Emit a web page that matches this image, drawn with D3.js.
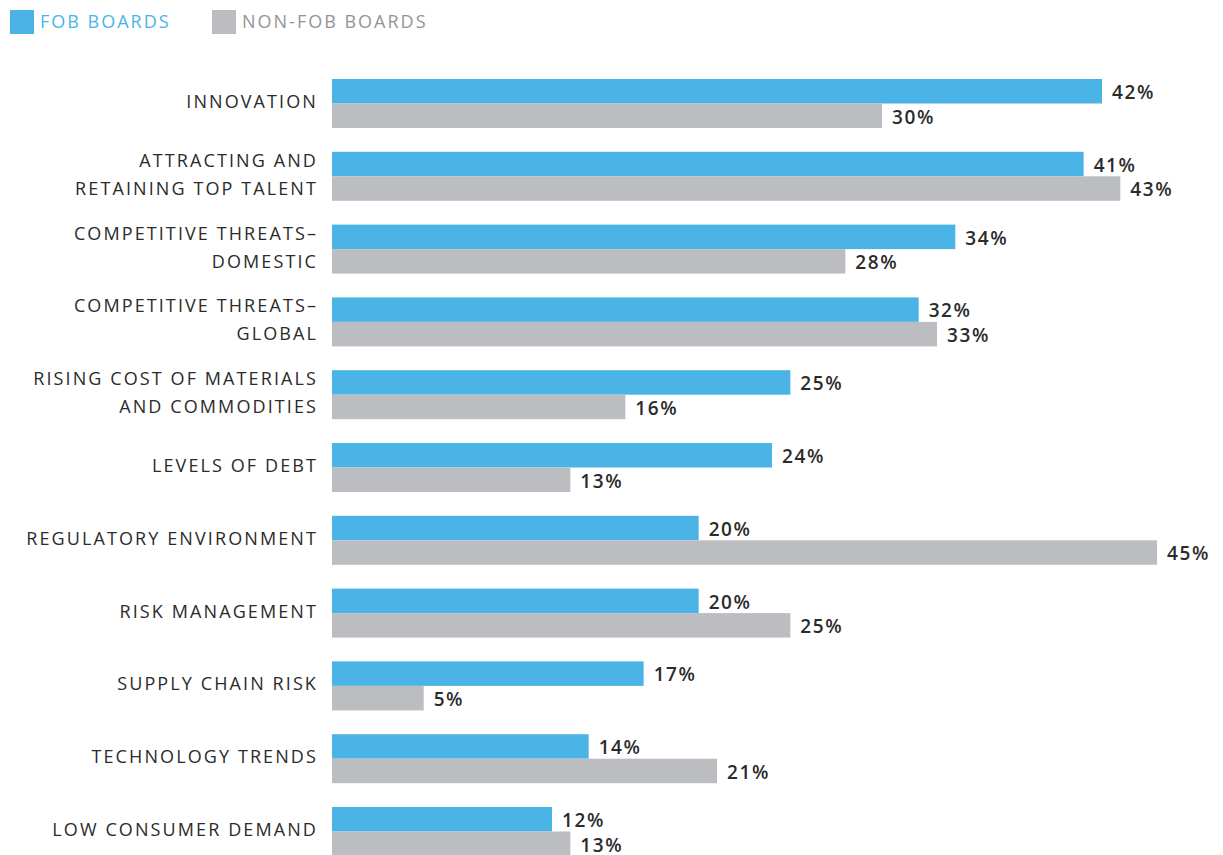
<!DOCTYPE html>
<html>
<head>
<meta charset="utf-8">
<script src="https://cdn.jsdelivr.net/npm/d3@7"></script>
<style>
  body { margin: 0; background: #fff; }
  svg { display: block; }
  text { font-family: "Open Sans", sans-serif; }
</style>
</head>
<body>
<div class="chart"></div>
<script>
// data
var categories = [
  ["INNOVATION"],
  ["ATTRACTING AND", "RETAINING TOP TALENT"],
  ["COMPETITIVE THREATS\u2013", "DOMESTIC"],
  ["COMPETITIVE THREATS\u2013", "GLOBAL"],
  ["RISING COST OF MATERIALS", "AND COMMODITIES"],
  ["LEVELS OF DEBT"],
  ["REGULATORY ENVIRONMENT"],
  ["RISK MANAGEMENT"],
  ["SUPPLY CHAIN RISK"],
  ["TECHNOLOGY TRENDS"],
  ["LOW CONSUMER DEMAND"]
];
var fobValues = [42, 41, 34, 32, 25, 24, 20, 20, 17, 14, 12];
var nonFobValues = [30, 43, 28, 33, 16, 13, 45, 25, 5, 21, 13];
var seriesNames = ["FOB BOARDS", "NON-FOB BOARDS"];
var seriesColors = ["#4bb4e6", "#bcbdc0"];
var legendTextColors = ["#4bb4e6", "#939497"];

var svgWidth = 1223;
var svgHeight = 855;

var svg = d3.select(".chart")
  .append("svg")
  .attr("width", svgWidth)
  .attr("height", svgHeight);

// scales
var x = d3.scaleLinear()
  .domain([0, 45])
  .range([332, 1157]);

// step ~72.8px, each pair of bars 49px tall
var y = d3.scaleBand()
  .domain(d3.range(categories.length))
  .range([79, 79 + 72.8 * (categories.length - 1) + 49])
  .paddingInner(1 - 49 / 72.8)
  .paddingOuter(0);

var sub = d3.scaleBand()
  .domain([0, 1])
  .range([0, y.bandwidth()]);

var rows = categories.map(function(c, i) {
  return { label: c, vals: [fobValues[i], nonFobValues[i]] };
});

var groups = svg.selectAll("g.row")
  .data(rows)
  .enter()
  .append("g")
  .attr("class", "row")
  .attr("transform", (d, i) => `translate(0, ${y(i)})`);

groups.selectAll("rect")
  .data(d => d.vals)
  .enter()
  .append("rect")
  .attr("x", x(0))
  .attr("y", (d, j) => sub(j))
  .attr("width", d => x(d) - x(0))
  .attr("height", sub.bandwidth())
  .attr("fill", (d, j) => seriesColors[j]);

groups.selectAll("text.val")
  .data(d => d.vals)
  .enter()
  .append("text")
  .attr("class", "val")
  .attr("x", d => x(d) + 10)
  .attr("y", (d, j) => sub(j) + sub.bandwidth() / 2 + 1)
  .attr("dy", "0.36em")
  .attr("font-size", 19)
  .attr("font-weight", 600)
  .attr("letter-spacing", 1.6)
  .attr("fill", "#2b2b2b")
  .text(d => d + "%");

// category labels, right aligned against the bars
groups.each(function(d) {
  var g = d3.select(this);
  var n = d.label.length;
  var mid = y.bandwidth() / 2 - 2;
  d.label.forEach(function(line, k) {
    g.append("text")
      .attr("x", 318)
      .attr("y", mid + (k - (n - 1) / 2) * 28)
      .attr("dy", "0.36em")
      .attr("text-anchor", "end")
      .attr("font-size", 18)
      .attr("letter-spacing", 2.1)
      .attr("fill", "#2b2b2b")
      .text(line);
  });
});

// legend
var legend = svg.append("g");
var legendX = [10, 212];
seriesNames.forEach(function(name, i) {
  legend.append("rect")
    .attr("x", legendX[i])
    .attr("y", 10)
    .attr("width", 24)
    .attr("height", 24)
    .attr("fill", seriesColors[i]);
  legend.append("text")
    .attr("x", legendX[i] + 30)
    .attr("y", 22)
    .attr("dy", "0.36em")
    .attr("font-size", 18)
    .attr("letter-spacing", 2)
    .attr("fill", legendTextColors[i])
    .text(name);
});
</script>
</body>
</html>
